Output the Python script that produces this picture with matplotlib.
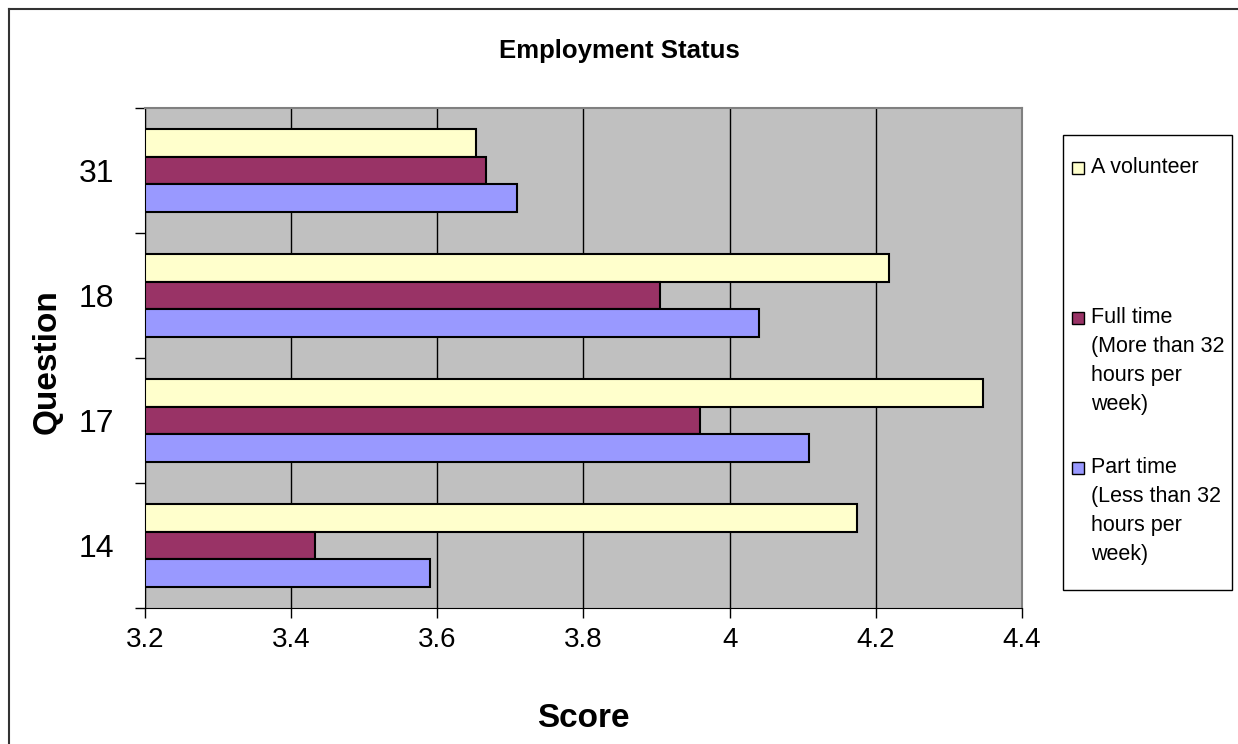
import matplotlib.pyplot as plt
from matplotlib.patches import Rectangle
from matplotlib.lines import Line2D
import numpy as np

plt.rcParams['font.family'] = ['Liberation Sans', 'DejaVu Sans']

questions = ['31', '18', '17', '14']
series = ['A volunteer',
          'Full time\n(More than 32\nhours per\nweek)',
          'Part time\n(Less than 32\nhours per\nweek)']
volunteer = [3.653, 4.218, 4.347, 4.174]
full_time = [3.666, 3.905, 3.960, 3.433]
part_time = [3.709, 4.040, 4.109, 3.590]
colors = ['#FFFFCC', '#993366', '#9999FF']
xticks = [3.2, 3.4, 3.6, 3.8, 4.0, 4.2, 4.4]
xlabels = ['3.2', '3.4', '3.6', '3.8', '4', '4.2', '4.4']

W, H = 1238, 744
fig = plt.figure(figsize=(W / 100, H / 100), dpi=100)
ax = fig.add_axes([145 / W, 1 - 608 / H, (1022 - 145) / W, 500 / H])
ax.set_facecolor('#C0C0C0')

h = 0.2213
y = np.arange(len(questions))
for k, vals in enumerate([volunteer, full_time, part_time]):
    ax.barh(y + (k - 1) * h, np.array(vals) - 3.2, left=3.2, height=h,
            color=colors[k], edgecolor='black', linewidth=1.5, zorder=3)

ax.set_xlim(3.2, 4.4)
ax.set_ylim(3.5, -0.5)
ax.set_xticks(xticks)
ax.set_xticklabels(xlabels, fontsize=20)
ax.set_yticks(y)
ax.set_yticklabels(questions, fontsize=23)
ax.tick_params(axis='y', length=0, pad=22)
ax.set_yticks(np.arange(-0.5, len(questions), 1), minor=True)
ax.tick_params(axis='y', which='minor', length=7, width=1)
ax.tick_params(axis='x', length=7, width=1, pad=7)
ax.grid(axis='x', color='black', linewidth=1, zorder=1)
ax.set_axisbelow(True)
for s in ['top', 'right']:
    ax.spines[s].set_color('#808080')
    ax.spines[s].set_linewidth(1.5)

fig.text(0.5, 1 - 58 / H, 'Employment Status', ha='center', va='baseline',
         fontsize=18.5, fontweight='bold')
fig.text(583.5 / W, 1 - 727 / H, 'Score', ha='center', va='baseline',
         fontsize=24, fontweight='bold')
fig.text(47 / W, 1 - 362 / H, 'Question', ha='center', va='center',
         fontsize=24, fontweight='bold', rotation=90)

# outer chart border
fig.add_artist(Line2D([9 / W, 9 / W], [0, 1 - 9 / H], color='#333333', lw=1.5))
fig.add_artist(Line2D([9 / W, 1], [1 - 9 / H, 1 - 9 / H], color='#333333', lw=1.5))

# legend box
fig.add_artist(Rectangle((1063 / W, 1 - 590 / H), (1232 - 1063) / W, 455 / H,
                         facecolor='white', edgecolor='black', lw=1))
line_y = [168, 318, 468]
for k, label in enumerate(series):
    yc = 1 - line_y[k] / H
    fig.add_artist(Rectangle((1072 / W, yc - 6 / H), 12 / W, 12 / H,
                             facecolor=colors[k], edgecolor='black', lw=1))
    fig.text(1091 / W, yc + 11 / H, label, ha='left', va='top', fontsize=15.5,
             linespacing=1.5)

fig.savefig('out.png', dpi=100)
